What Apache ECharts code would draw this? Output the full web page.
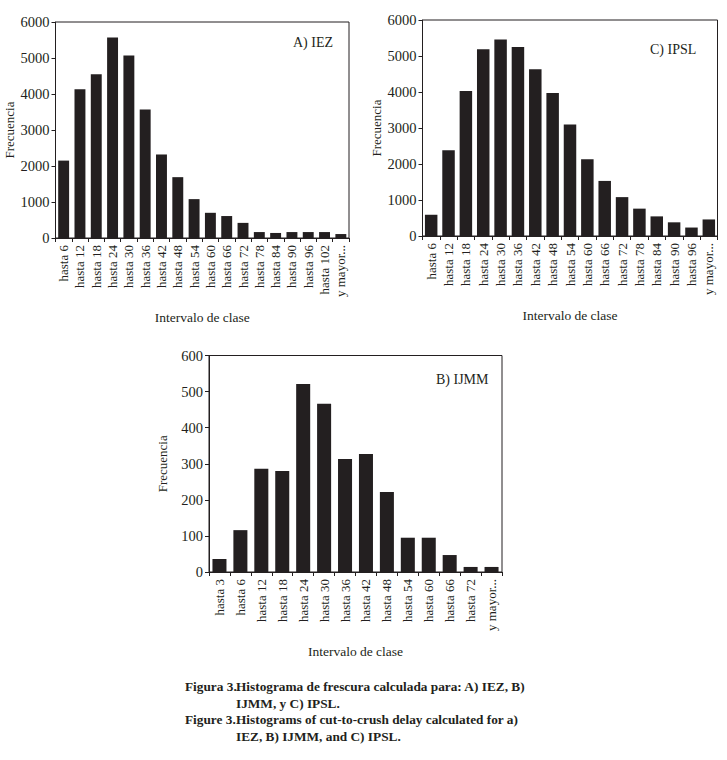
<!DOCTYPE html>
<html>
<head>
<meta charset="utf-8">
<script src="https://cdn.jsdelivr.net/npm/echarts@6/dist/echarts.min.js"></script>
<style>
html,body{margin:0;padding:0;background:#fff;}
#chart{width:727px;height:760px;}
</style>
</head>
<body>
<div id="chart"></div>
<script>
// ---- Data ----
const catsA = ['hasta 6','hasta 12','hasta 18','hasta 24','hasta 30','hasta 36','hasta 42','hasta 48','hasta 54','hasta 60','hasta 66','hasta 72','hasta 78','hasta 84','hasta 90','hasta 96','hasta 102','y mayor...'];
const valsA = [2150, 4130, 4550, 5570, 5070, 3570, 2320, 1690, 1080, 700, 610, 420, 165, 140, 165, 165, 165, 110];

const catsC = ['hasta 6','hasta 12','hasta 18','hasta 24','hasta 30','hasta 36','hasta 42','hasta 48','hasta 54','hasta 60','hasta 66','hasta 72','hasta 78','hasta 84','hasta 90','hasta 96','y mayor...'];
const valsC = [590, 2385, 4030, 5190, 5460, 5250, 4630, 3970, 3100, 2135, 1530, 1080, 760, 545, 380, 235, 460];

const catsB = ['hasta 3','hasta 6','hasta 12','hasta 18','hasta 24','hasta 30','hasta 36','hasta 42','hasta 48','hasta 54','hasta 60','hasta 66','hasta 72','y mayor...'];
const valsB = [36, 116, 286, 280, 521, 466, 313, 327, 222, 95, 95, 47, 14, 14];

const yTicksA = {min: 0, max: 6000, interval: 1000};
const yTicksB = {min: 0, max: 600, interval: 100};

const panelLabels = ['A) IEZ', 'C) IPSL', 'B) IJMM'];
const yName = 'Frecuencia';
const xName = 'Intervalo de clase';
const captionLines = [
  ['Figura 3.', 'Histograma de frescura calculada para: A) IEZ, B)'],
  ['', 'IJMM, y C) IPSL.'],
  ['Figure 3.', 'Histograms of cut-to-crush delay calculated for a)'],
  ['', 'IEZ, B) IJMM, and C) IPSL.']
];

// ---- Styling ----
const INK = '#231f20';
const FONT = '"Liberation Serif", "DejaVu Serif", serif';

const grids = [
  {left: 55.5, top: 22, width: 293.5, height: 216},
  {left: 422.5, top: 20, width: 295, height: 216},
  {left: 209, top: 355.5, width: 293, height: 216.5}
];

function xAxisFor(i, cats) {
  return {
    type: 'category', gridIndex: i, data: cats,
    name: xName, nameLocation: 'middle', nameGap: 72,
    nameTextStyle: {fontFamily: FONT, fontSize: 13.5, color: INK},
    axisLine: {show: true, lineStyle: {color: INK, width: 1}},
    axisTick: {show: true, length: 4, lineStyle: {color: INK}},
    axisLabel: {rotate: 90, margin: 7, interval: 0, fontFamily: FONT, fontSize: 13, color: INK},
    splitLine: {show: false}
  };
}
function yAxisFor(i, t) {
  return {
    type: 'value', gridIndex: i, min: t.min, max: t.max, interval: t.interval,
    name: yName, nameLocation: 'middle', nameGap: 40,
    nameTextStyle: {fontFamily: FONT, fontSize: 13, color: INK},
    axisLine: {show: true, lineStyle: {color: INK, width: 1}},
    axisTick: {show: true, length: 4, lineStyle: {color: INK}},
    axisLabel: {margin: 6, fontFamily: FONT, fontSize: 14.5, color: INK, formatter: v => String(v)},
    splitLine: {show: false}
  };
}
function seriesFor(i, vals, gap) {
  return {
    type: 'bar', xAxisIndex: i, yAxisIndex: i, data: vals,
    barCategoryGap: gap, itemStyle: {color: INK}, silent: true, animation: false
  };
}

const graphics = [
  {type: 'text', left: 293, top: 35, style: {text: panelLabels[0], font: '14px ' + FONT, fill: INK}},
  {type: 'text', left: 650, top: 42, style: {text: panelLabels[1], font: '14px ' + FONT, fill: INK}},
  {type: 'text', left: 436, top: 372, style: {text: panelLabels[2], font: '14px ' + FONT, fill: INK}}
];
const capY = [680, 697, 713, 730];
captionLines.forEach((ln, k) => {
  if (ln[0]) graphics.push({type: 'text', left: 185, top: capY[k], style: {text: ln[0], font: 'bold 13.3px ' + FONT, fill: INK}});
  graphics.push({type: 'text', left: 236, top: capY[k], style: {text: ln[1], font: 'bold 13.3px ' + FONT, fill: INK}});
});

const chart = echarts.init(document.getElementById('chart'), null, {renderer: 'svg'});
chart.setOption({
  animation: false,
  backgroundColor: '#fff',
  grid: grids.map(g => Object.assign({show: true, borderColor: INK, borderWidth: 1, backgroundColor: 'transparent', containLabel: false}, g)),
  xAxis: [xAxisFor(0, catsA), xAxisFor(1, catsC), xAxisFor(2, catsB)],
  yAxis: [yAxisFor(0, yTicksA), yAxisFor(1, yTicksA), yAxisFor(2, yTicksB)],
  series: [seriesFor(0, valsA, '33%'), seriesFor(1, valsC, '28%'), seriesFor(2, valsB, '33%')],
  graphic: graphics
});
</script>
</body>
</html>
